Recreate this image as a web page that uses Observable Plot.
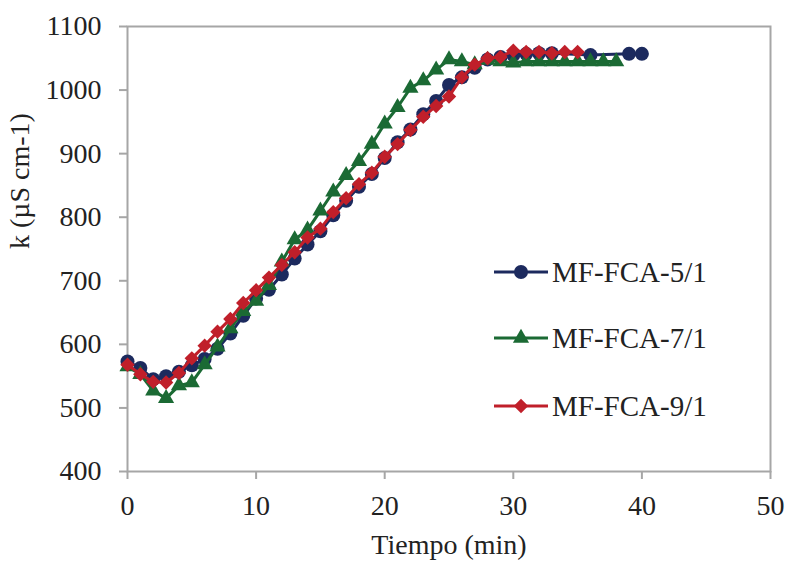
<!DOCTYPE html>
<html>
<head>
<meta charset="utf-8">
<script src="https://cdn.jsdelivr.net/npm/d3@7"></script>
<script src="https://cdn.jsdelivr.net/npm/@observablehq/plot@0.6"></script>
<style>
  html, body { margin: 0; padding: 0; background: white; }
  #chart { width: 789px; height: 563px; }
</style>
</head>
<body>
<div id="chart"></div>
<script>
// ---- data ----
const seriesNames = ["MF-FCA-5/1", "MF-FCA-7/1", "MF-FCA-9/1"];
const seriesColors = ["#1c2a5e", "#1b6a34", "#c01f2a"];
const seriesSymbols = ["circle", "triangle", "diamond2"];

const time5 = [0,1,2,3,4,5,6,7,8,9,10,11,12,13,14,15,16,17,18,19,20,21,22,23,24,25,26,27,28,29,30,31,32,33,36,39,40];
const k5 =    [573,563,545,550,557,567,577,593,617,645,672,686,710,735,757,778,803,826,848,868,893,918,938,962,983,1008,1020,1035,1048,1052,1055,1057,1058,1058,1055,1057,1057];

const time7 = [0,1,2,3,4,5,6,7,8,9,10,11,12,13,14,15,16,17,18,19,20,21,22,23,24,25,26,27,28,29,30,31,32,33,34,35,36,37,38];
const k7 =    [565,553,527,515,535,540,568,596,625,652,668,693,730,765,780,810,840,866,888,915,947,973,1003,1015,1032,1048,1045,1040,1047,1045,1043,1045,1045,1045,1045,1045,1045,1045,1045];

const time9 = [0,1,2,3,4,5,6,7,8,9,10,11,12,13,14,15,16,17,18,19,20,21,22,23,24,25,26,27,28,29,30,31,32,33,34,35];
const k9 =    [568,553,541,540,555,578,598,620,640,665,685,705,725,745,768,782,808,830,852,870,895,915,937,958,975,990,1020,1040,1050,1052,1062,1060,1060,1058,1060,1060];

const xTicks = [0, 10, 20, 30, 40, 50];
const yTicks = [400, 500, 600, 700, 800, 900, 1000, 1100];
const xLabel = "Tiempo (min)";
const yLabel = "k (µS cm-1)";

// ---- build rows ----
const seriesData = [
  time5.map((t, i) => ({series: seriesNames[0], t, k: k5[i]})),
  time7.map((t, i) => ({series: seriesNames[1], t, k: k7[i]})),
  time9.map((t, i) => ({series: seriesNames[2], t, k: k9[i]}))
];
const symbolR = [7, 6, 6.5];

const font = "'Liberation Serif', 'Times New Roman', serif";
const gray = "#a6a6a6";

const marks = [Plot.frame({stroke: gray, strokeWidth: 2})];
seriesData.forEach((rows, i) => {
  marks.push(Plot.line(rows, {x: "t", y: "k", stroke: seriesColors[i], strokeWidth: 3}));
  marks.push(Plot.dot(rows, {x: "t", y: "k", fill: seriesColors[i], stroke: "none", symbol: () => seriesSymbols[i], r: symbolR[i]}));
});
marks.push(Plot.text([xLabel], {frameAnchor: "bottom", dy: 82, text: d => d, fontSize: 28, fill: "#222"}));
marks.push(Plot.text([yLabel], {frameAnchor: "left", dx: -107, rotate: -90, text: d => d, fontSize: 28, fill: "#222"}));

const chart = Plot.plot({
  width: 789,
  height: 563,
  marginLeft: 127,
  marginRight: 19,
  marginTop: 26,
  marginBottom: 92,
  style: {fontFamily: font, fontSize: "28px", color: "#222", background: "white", overflow: "visible"},
  symbol: {type: "identity"},
  x: {domain: [0, 50], ticks: xTicks, tickSize: 8, tickPadding: 16, label: null, tickFormat: d => String(d)},
  y: {domain: [400, 1100], ticks: yTicks, tickSize: 8, tickPadding: 18, label: null, tickFormat: d => String(d)},
  marks
});

document.getElementById("chart").appendChild(chart);

// gray tick lines
const svg = d3.select(chart.tagName.toLowerCase() === "svg" ? chart : chart.querySelector("svg"));
svg.selectAll("[aria-label*='axis'] line, [aria-label*='axis'] path").attr("stroke", gray).attr("stroke-width", 2);

// ---- legend ----
const legendX0 = 494, legendX1 = 548, legendMarkX = 521, legendTextX = 552;
const legendYs = [272, 338, 406];
const symbolMap = {circle: d3.symbolCircle, triangle: d3.symbolTriangle, diamond2: d3.symbolDiamond2};
const lg = svg.append("g").attr("aria-label", "legend");
seriesNames.forEach((name, i) => {
  const y = legendYs[i];
  lg.append("line").attr("x1", legendX0).attr("x2", legendX1).attr("y1", y).attr("y2", y)
    .attr("stroke", seriesColors[i]).attr("stroke-width", 3);
  const area = Math.PI * symbolR[i] * symbolR[i];
  lg.append("path").attr("d", d3.symbol(symbolMap[seriesSymbols[i]], area)())
    .attr("transform", `translate(${legendMarkX},${y})`).attr("fill", seriesColors[i]);
  lg.append("text").attr("x", legendTextX).attr("y", y).attr("dy", "0.35em")
    .attr("text-anchor", "start")
    .attr("font-family", font).attr("font-size", 29).attr("fill", "#222").text(name);
});
</script>
</body>
</html>
